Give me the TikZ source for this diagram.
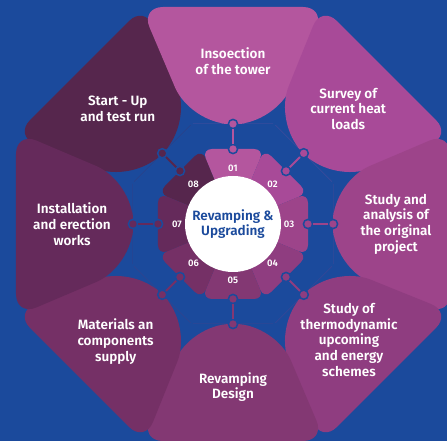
\documentclass[tikz,border=0pt]{standalone}
\usepackage{fontspec}
\setmainfont{Fira Sans}[BoldFont={* SemiBold}]
\usepackage{tikz}

\definecolor{bgblue}{RGB}{27,74,156}
\definecolor{stepa}{RGB}{180,86,158}
\definecolor{stepb}{RGB}{168,74,152}
\definecolor{stepc}{RGB}{157,68,138}
\definecolor{stepd}{RGB}{143,61,128}
\definecolor{stepe}{RGB}{131,56,115}
\definecolor{stepf}{RGB}{117,48,102}
\definecolor{stepg}{RGB}{101,42,91}
\definecolor{steph}{RGB}{86,38,77}

\tikzset{
  petaltext/.style={text=white, align=center, font=\bfseries\fontsize{13.5}{15.7}\selectfont},
  numtext/.style={text=white, font=\bfseries\fontsize{9.5}{11}\selectfont},
  joint/.style={circle, draw=bgblue, line width=1.5pt, inner sep=0pt, minimum size=9.2pt},
  link/.style={line width=2pt},
}

% one big petal and one small wedge, pointing up
\newcommand{\steppetal}[1]{\fill[#1] (0,100) [rounded corners=40pt] -- (-42.4,100) [rounded corners=22pt] -- (-92.1,217) -- (92.1,217) [rounded corners=40pt] -- (42.4,100) -- cycle;}
\newcommand{\stepwedge}[1]{\fill[#1, rounded corners=10pt] (0,0) -- (-31.1,75) -- (31.1,75) -- cycle;}

\begin{document}
\begin{tikzpicture}[x=1pt, y=1pt]

    \useasboundingbox (-233,-217) rectangle (214,224);
    \clip (-233,-217) rectangle (214,224);
    \fill[bgblue] (-233,-217) rectangle (214,224);

    \begin{scope}[rotate=45]
      \steppetal{steph}
      \stepwedge{steph}
      \node[joint, fill=steph] (in8) at (0,75) {};
      \node[joint, fill=steph] (out8) at (0,100) {};
      \draw[link, steph] (in8) -- (out8);
      \node[numtext] (num8) at (0,56) {08};
      \node[petaltext] (txt8) at (0,163) {Start - Up\\and test run};
    \end{scope}

    \begin{scope}[rotate=0]
      \steppetal{stepa}
      \stepwedge{stepa}
      \node[joint, fill=stepa] (in1) at (0,75) {};
      \node[joint, fill=stepa] (out1) at (0,100) {};
      \draw[link, stepa] (in1) -- (out1);
      \node[numtext] (num1) at (0,56) {01};
      \node[petaltext] (txt1) at (0,163) {Insoection\\of the tower};
    \end{scope}

    \begin{scope}[rotate=-45]
      \steppetal{stepb}
      \stepwedge{stepb}
      \node[joint, fill=stepb] (in2) at (0,75) {};
      \node[joint, fill=stepb] (out2) at (0,100) {};
      \draw[link, stepb] (in2) -- (out2);
      \node[numtext] (num2) at (0,56) {02};
      \node[petaltext] (txt2) at (0,163) {Survey of\\current heat\\loads};
    \end{scope}

    \begin{scope}[rotate=-90]
      \steppetal{stepc}
      \stepwedge{stepc}
      \node[joint, fill=stepc] (in3) at (0,75) {};
      \node[joint, fill=stepc] (out3) at (0,100) {};
      \draw[link, stepc] (in3) -- (out3);
      \node[numtext] (num3) at (0,56) {03};
      \node[petaltext] (txt3) at (0,163) {Study and\\analysis of\\the original\\project};
    \end{scope}

    \begin{scope}[rotate=-135]
      \steppetal{stepd}
      \stepwedge{stepd}
      \node[joint, fill=stepd] (in4) at (0,75) {};
      \node[joint, fill=stepd] (out4) at (0,100) {};
      \draw[link, stepd] (in4) -- (out4);
      \node[numtext] (num4) at (0,56) {04};
      \node[petaltext] (txt4) at (0,164) {Study of\\thermodynamic\\upcoming\\and energy\\schemes};
    \end{scope}

    \begin{scope}[rotate=180]
      \steppetal{stepe}
      \stepwedge{stepe}
      \node[joint, fill=stepe] (in5) at (0,75) {};
      \node[joint, fill=stepe] (out5) at (0,100) {};
      \draw[link, stepe] (in5) -- (out5);
      \node[numtext] (num5) at (0,56) {05};
      \node[petaltext] (txt5) at (0,163) {Revamping\\Design};
    \end{scope}

    \begin{scope}[rotate=135]
      \steppetal{stepf}
      \stepwedge{stepf}
      \node[joint, fill=stepf] (in6) at (0,75) {};
      \node[joint, fill=stepf] (out6) at (0,100) {};
      \draw[link, stepf] (in6) -- (out6);
      \node[numtext] (num6) at (0,56) {06};
      \node[petaltext] (txt6) at (0,166) {Materials an\\components\\supply};
    \end{scope}

    \begin{scope}[rotate=90]
      \steppetal{stepg}
      \stepwedge{stepg}
      \node[joint, fill=stepg] (in7) at (0,75) {};
      \node[joint, fill=stepg] (out7) at (0,100) {};
      \draw[link, stepg] (in7) -- (out7);
      \node[numtext] (num7) at (0,56) {07};
      \node[petaltext] (txt7) at (0,161) {Installation\\and erection\\works};
    \end{scope}

    % centre
    \fill[white] (0,0) circle [radius=48];
    \node[text=bgblue, align=center, font=\bfseries\fontsize{13.5}{15.5}\selectfont] (hub) at (0,0) {Revamping \&\\Upgrading};

  \end{tikzpicture}
\end{document}
